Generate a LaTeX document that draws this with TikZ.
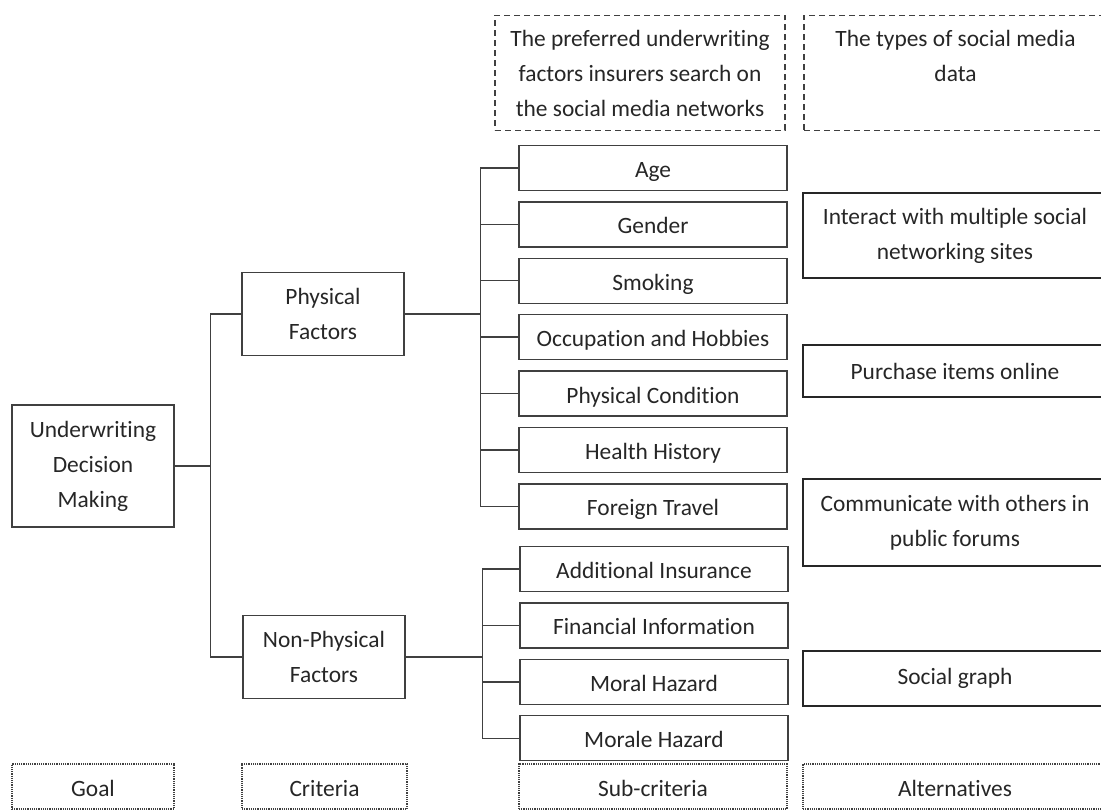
\documentclass[tikz,border=0pt]{standalone}
\usepackage{fontspec}
\setmainfont{Carlito}[Ligatures=NoCommon]
\usepackage{xcolor}
\definecolor{hierline}{HTML}{404040}
\definecolor{hiertext}{HTML}{262626}
\usepackage{tikz}
\usetikzlibrary{positioning}

\begin{document}
\begin{tikzpicture}[
  x=1pt,y=-1pt,
  font=\fontsize{23.4}{35}\selectfont,
  text=hiertext,
  node distance=10pt and 16pt,
  box/.style={draw=hierline,line width=1.4pt,inner sep=0pt,
    minimum width=268pt,minimum height=45pt,align=center,
    text height=23pt,text depth=4pt},
  crit/.style={draw=hierline,line width=1.4pt,inner sep=0pt,
    minimum width=162pt,minimum height=83pt,align=center},
  alt/.style={draw=black!85,line width=2.6pt,inner sep=0pt,
    minimum width=304pt,align=center},
  head/.style={draw=hierline,line width=1.3pt,dash pattern=on 6pt off 4pt,
    inner sep=0pt,minimum height=115pt,align=center},
  tag/.style={draw=hierline,line width=1.2pt,densely dotted,inner sep=0pt,
    minimum height=45pt,text height=23pt,text depth=4pt},
  link/.style={draw=hierline,line width=1.4pt}
]
  \useasboundingbox (0,0) rectangle (1101,810);
  % Goal & criteria
  \node[crit,minimum height=122pt] (goal) at (93,466)
    {Underwriting\\ Decision\\ Making};
  \node[crit] (phys)    at (323,314) {Physical\\ Factors};
  \node[crit] (nonphys) at (324,657) {Non-Physical\\ Factors};
  % Sub-criteria (physical)
  \node[box] (age) at (653,168) {Age};
  \node[box,below=of age]     (gender)  {Gender};
  \node[box,below=of gender]  (smoking) {Smoking};
  \node[box,below=of smoking] (occup)   {Occupation and Hobbies};
  \node[box,below=of occup]   (cond)    {Physical Condition};
  \node[box,below=of cond]    (history) {Health History};
  \node[box,below=of history] (travel)  {Foreign Travel};
  % Sub-criteria (non-physical)
  \node[box] (addins) at (654,569) {Additional Insurance};
  \node[box,below=of addins]    (financial) {Financial Information};
  \node[box,below=of financial] (moral)     {Moral Hazard};
  \node[box,below=of moral]     (morale)    {Morale Hazard};
  % Alternatives
  \node[alt,minimum height=85pt] (interact) at (955,235.5)
    {Interact with multiple social\\ networking sites};
  \node[alt,minimum height=52pt] (purchase) at (955,371)
    {Purchase items online};
  \node[alt,minimum height=87pt] (forums) at (955,522.5)
    {Communicate with others in\\ public forums};
  \node[alt,minimum height=55pt] (graph) at (955,678.5) {Social graph};
  % Column headers
  \node[head,minimum width=290pt] (subhead) at (640,73)
    {The preferred underwriting\\ factors insurers search on\\ the social media networks};
  \node[head,minimum width=303pt] (althead) at (955.5,73)
    {The types of social media\\ data\\ \mbox{}};
  % Level tags
  \node[tag,minimum width=162pt] (goaltag) at (93,786.5)  {Goal};
  \node[tag,minimum width=165pt] (crittag) at (324.5,786.5) {Criteria};
  \node[tag,minimum width=268pt] (subtag)  at (653,786.5) {Sub-criteria};
  \node[tag,minimum width=304pt] (alttag)  at (955,786.5) {Alternatives};
  % Links
  \draw[link] (goal.east) -- ++(36,0) coordinate (trunk);
  \draw[link] (trunk) |- (phys.west);
  \draw[link] (trunk) |- (nonphys.west);
  \draw[link] (phys.east) -- ++(76,0) coordinate (physbus);
  \foreach \n in {age,gender,smoking,occup,cond,history,travel}
    \draw[link] (physbus) |- (\n.west);
  \draw[link] (nonphys.east) -- ++(77,0) coordinate (nonbus);
  \foreach \n in {addins,financial,moral,morale}
    \draw[link] (nonbus) |- (\n.west);
\end{tikzpicture}
\end{document}
